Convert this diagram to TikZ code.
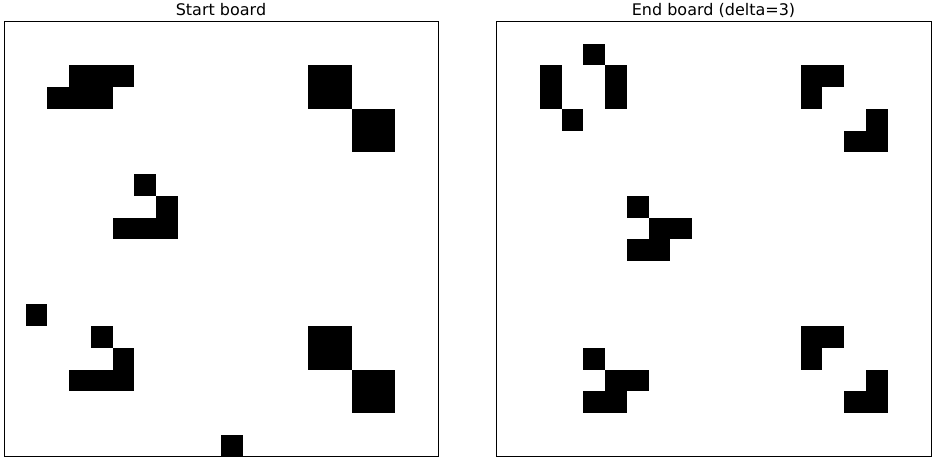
\documentclass[tikz,border=0pt]{standalone}
\usepackage{fontspec}
\setmainfont{DejaVu Sans}
\usetikzlibrary{positioning}

\def\cs{21.73}

\begin{document}
\begin{tikzpicture}[x=0.75pt,y=-0.75pt]
            \useasboundingbox (0,0) rectangle (934,460);
            \tikzset{frame/.style={draw=black, line width=0.75pt},
                     alive/.style={fill=black},
                     title/.style={anchor=base, font=\fontsize{12}{14}\selectfont}}

            % start board
            \node[title] (starttitle) at (221,15.5) {Start board};
            \begin{scope}[shift={(4,22)}]
                \foreach \c/\r in {3/2,4/2,5/2,2/3,3/3,4/3,
                                   14/2,15/2,14/3,15/3,16/4,17/4,16/5,17/5,
                                   6/7,7/8,5/9,6/9,7/9,
                                   1/13,
                                   4/14,5/15,3/16,4/16,5/16,
                                   14/14,15/14,14/15,15/15,16/16,17/16,16/17,17/17,
                                   10/19}
                    \fill[alive] (\c*\cs,\r*\cs) rectangle ++(\cs,\cs);
                \draw[frame] (0,0) rectangle (20*\cs,20*\cs);
            \end{scope}

            % end board
            \node[title] (endtitle) at (713.5,15.5) {End board (delta=3)};
            \begin{scope}[shift={(496.5,22)}]
                \foreach \c/\r in {4/1,2/2,2/3,5/2,5/3,3/4,
                                   14/2,15/2,14/3,17/4,16/5,17/5,
                                   6/8,7/9,8/9,6/10,7/10,
                                   14/14,15/14,14/15,17/16,16/17,17/17,
                                   4/15,5/16,6/16,4/17,5/17}
                    \fill[alive] (\c*\cs,\r*\cs) rectangle ++(\cs,\cs);
                \draw[frame] (0,0) rectangle (20*\cs,20*\cs);
            \end{scope}
        \end{tikzpicture}
\end{document}
